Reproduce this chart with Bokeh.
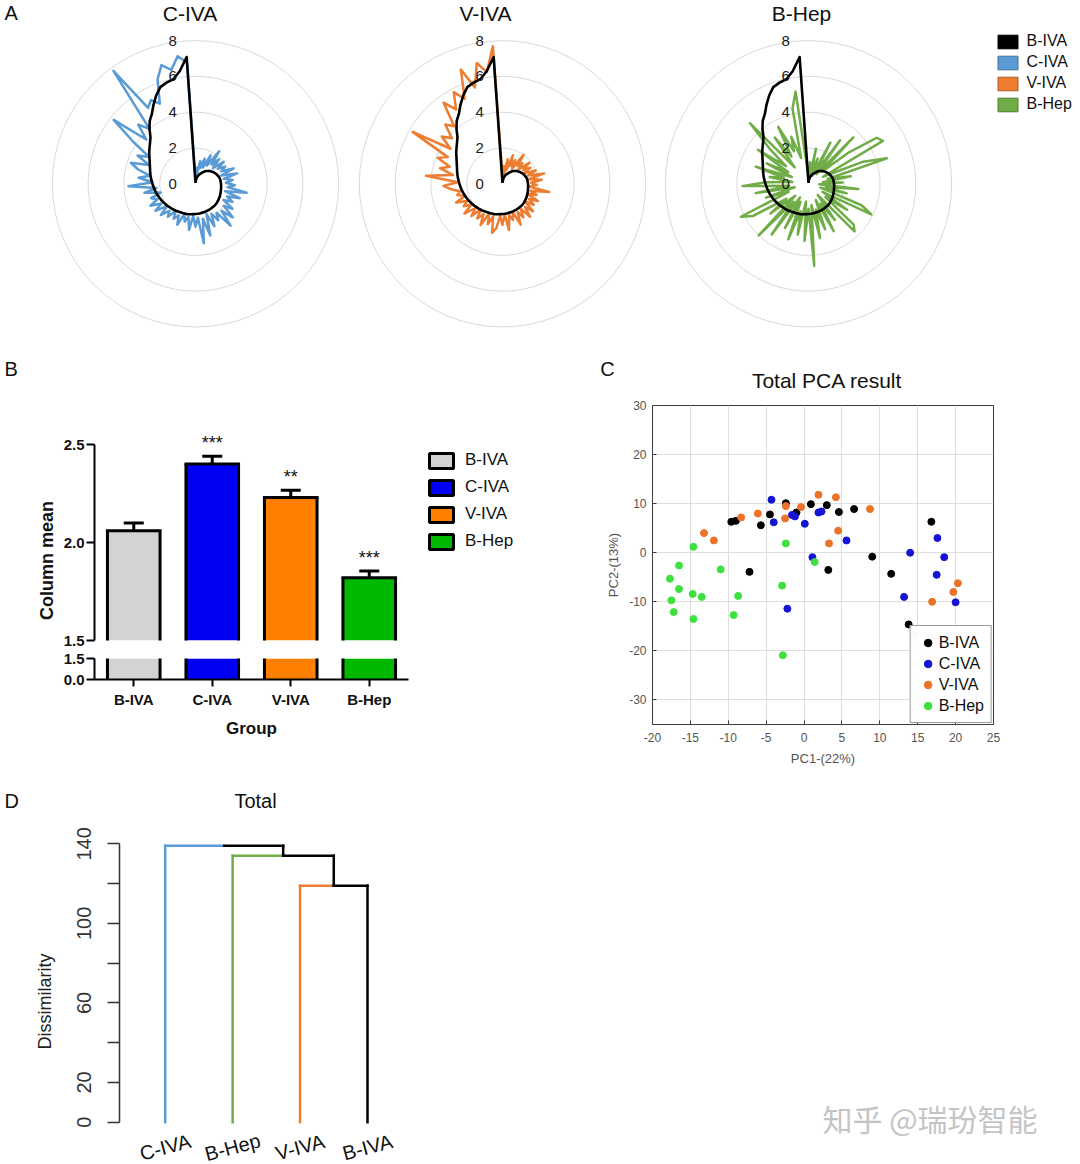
import math
import numpy as np
from bokeh.plotting import figure
from bokeh.models import (Range1d, FactorRange, Label, Legend, LegendItem,
                          FixedTicker, ColumnDataSource, Whisker, TeeHead,
                          NumeralTickFormatter)
from bokeh.layouts import row, column
from bokeh.transform import dodge
from bokeh.embed import file_html
from bokeh.resources import INLINE
from bokeh.core.properties import value

FONT = "Liberation Sans"

# ---------------- Panel A: radar data ----------------
groups = ["B-IVA", "C-IVA", "V-IVA", "B-Hep"]
radar_colors = ["#000000", "#5b9bd5", "#ed7d31", "#70ad47"]
radar_edges = ["#000000", "#41719c", "#ae5a21", "#507e32"]
ring_values = [0, 2, 4, 6, 8]

b_iva = [0.05, 0.15, 0.25, 0.35, 0.45, 0.52, 0.60, 0.66, 0.75, 0.85,
         0.93, 1.00, 1.07, 1.12, 1.18, 1.23, 1.27, 1.31, 1.35, 1.38,
         1.40, 1.41, 1.42, 1.43, 1.44, 1.45, 1.46, 1.48, 1.50, 1.52,
         1.54, 1.56, 1.58, 1.60, 1.61, 1.62, 1.62, 1.63, 1.64, 1.64,
         1.65, 1.66, 1.66, 1.67, 1.68, 1.69, 1.70, 1.72, 1.74, 1.76,
         1.77, 1.79, 1.80, 1.83, 1.86, 1.89, 1.92, 1.95, 1.99, 2.03,
         2.07, 2.11, 2.15, 2.19, 2.24, 2.29, 2.33, 2.38, 2.43, 2.49,
         2.55, 2.61, 2.67, 2.75, 2.85, 2.97, 3.12, 3.26, 3.42, 3.62,
         4.00, 4.35, 4.60, 5.00, 5.40, 5.75, 5.88, 5.97, 6.35, 7.10]

c_iva = [0.3, 0.9, 0.6, 1.3, 0.9, 1.5, 1.0, 1.8, 1.2, 2.25,
         1.4, 1.9, 1.3, 2.0, 1.5, 1.9, 1.6, 2.3, 1.5, 2.4,
         1.6, 2.1, 1.7, 2.2, 1.8, 2.9, 1.7, 2.6, 1.9, 2.3,
         1.8, 2.5, 2.0, 2.8, 2.1, 3.05, 2.0, 2.4, 1.9, 2.6,
         1.8, 3.0, 2.0, 3.35, 1.9, 2.4, 1.8, 2.6, 1.9, 2.2,
         1.8, 2.5, 2.0, 2.3, 1.9, 2.4, 2.1, 2.6, 2.0, 2.7,
         2.2, 2.8, 2.3, 2.6, 2.0, 2.9, 2.2, 3.75, 2.4, 3.2,
         2.6, 3.3, 3.8, 2.8, 3.6, 3.0, 4.2, 5.8, 3.7, 4.6,
         4.0, 7.8, 5.0, 5.3, 4.9, 6.2, 6.9, 6.5, 7.2, 6.8]

v_iva = [0.4, 1.0, 0.5, 1.4, 0.8, 1.7, 1.1, 1.5, 1.0, 2.0,
         1.3, 1.6, 1.2, 1.9, 1.4, 1.8, 1.3, 2.0, 1.5, 2.4,
         1.5, 2.2, 1.6, 1.9, 1.5, 2.65, 1.6, 2.0, 1.5, 2.2,
         1.7, 2.1, 1.6, 2.3, 1.8, 2.4, 1.7, 2.2, 1.8, 2.5,
         1.7, 2.1, 1.8, 2.6, 1.7, 2.3, 1.8, 2.5, 2.8, 1.9,
         2.4, 1.8, 2.6, 2.0, 2.4, 1.9, 2.5, 2.0, 2.7, 2.1,
         2.5, 2.2, 2.8, 2.2, 2.6, 2.4, 2.9, 3.3, 2.5, 4.3,
         2.8, 3.6, 3.1, 3.9, 3.4, 5.8, 3.5, 4.3, 3.8, 4.6,
         4.2, 5.6, 4.9, 5.8, 5.2, 6.8, 5.6, 6.9, 6.3, 7.7]

b_hep = [0.3, 1.2, 0.4, 2.0, 0.6, 1.5, 0.5, 2.6, 0.8, 3.0,
         0.7, 3.6, 1.0, 2.8, 4.6, 4.8, 0.9, 3.3, 4.6, 1.1,
         2.4, 0.8, 1.9, 0.6, 2.8, 1.0, 2.2, 0.7, 3.2, 3.9,
         0.9, 2.6, 1.2, 3.4, 3.7, 0.8, 2.5, 1.3, 3.0, 1.0,
         2.7, 1.5, 3.1, 1.2, 4.6, 1.4, 3.2, 1.0, 2.9, 1.6,
         3.3, 1.1, 2.8, 0.9, 3.5, 1.3, 4.0, 1.0, 2.7, 1.5,
         3.6, 4.2, 1.2, 2.5, 0.8, 3.0, 1.1, 3.7, 2.4, 0.9,
         2.2, 1.4, 3.1, 1.0, 2.6, 1.3, 3.4, 1.6, 2.9, 4.7,
         1.2, 3.2, 1.8, 3.6, 2.0, 2.8, 1.5, 4.3, 5.2, 0.8]

# ---------------- Panel B: bar data ----------------
bar_groups = ["B-IVA", "C-IVA", "V-IVA", "B-Hep"]
bar_means = [2.06, 2.40, 2.23, 1.82]
bar_sem = [0.04, 0.04, 0.037, 0.034]
bar_colors = ["#d3d3d3", "#0000f5", "#ff8000", "#00b800"]
bar_stars = ["", "***", "**", "***"]

# ---------------- Panel C: PCA data ----------------
pca_groups = ["B-IVA", "C-IVA", "V-IVA", "B-Hep"]
pca_colors = ["#000000", "#1414d2", "#ea7328", "#3ee03e"]
pc1_b_iva = [-9.6, -9.0, -5.7, -4.5, -2.4, -1.0, 0.9, 3.0, 4.6, 6.6, -7.2, 3.2, 9.0, 11.5, 16.8, 13.8]
pc2_b_iva = [6.3, 6.5, 5.6, 7.8, 10.1, 8.2, 9.9, 9.7, 8.3, 8.9, -3.9, -3.5, -0.8, -4.3, 6.3, -14.6]
pc1_c_iva = [-4.3, -4.0, -1.6, -1.2, 0.1, 1.9, 2.3, 5.6, 1.1, -2.2, 14.0, 17.6, 18.5, 17.5, 13.2, 20.0]
pc2_c_iva = [10.8, 6.2, 7.7, 7.4, 5.9, 8.2, 8.4, 2.5, -0.9, -11.4, 0.0, 3.0, -0.9, -4.5, -9.0, -10.1]
pc1_v_iva = [-13.2, -11.9, -8.3, -6.1, -2.4, -2.5, -0.4, 1.9, 4.2, 4.5, 3.3, 8.7, 16.9, 19.7, 20.3, 14.5]
pc2_v_iva = [4.0, 2.5, 7.2, 8.0, 9.5, 7.0, 9.3, 11.8, 11.3, 4.5, 1.9, 8.9, -10.0, -8.0, -6.2, -16.8]
pc1_b_hep = [-17.7, -17.5, -17.2, -16.5, -16.5, -14.6, -14.7, -14.6, -13.5, -11.0, -9.3, -8.7, -2.4, -2.9, -2.8, 1.4]
pc2_b_hep = [-5.3, -9.7, -12.1, -2.6, -7.4, 1.2, -8.4, -13.5, -9.0, -3.4, -12.7, -8.8, 1.9, -6.7, -20.9, -1.9]
pca_x_ticks = [-20, -15, -10, -5, 0, 5, 10, 15, 20, 25]
pca_y_ticks = [-30, -20, -10, 0, 10, 20, 30]

# ---------------- Panel D: dendrogram data ----------------
leaves = ["C-IVA", "B-Hep", "V-IVA", "B-IVA"]
leaf_colors = ["#5b9bd5", "#70ad47", "#ed7d31", "#000000"]
merge_left = ["V-IVA", "B-Hep", "C-IVA"]
merge_right = ["B-IVA", "node1", "node2"]
merge_height = [119, 134, 139]
dend_ticks = [0, 20, 40, 60, 80, 100, 120, 140]
dend_shown = [0, 20, 60, 100, 140]

TXT = "#111111"


def no_align(p):
    if "frame_align" in p.properties():
        p.frame_align = False
    return p


def blank(width, height):
    p = figure(width=width, height=height, title=None,
               x_range=Range1d(0, width), y_range=Range1d(0, height),
               output_backend="svg", toolbar_location=None,
               x_axis_location=None, y_axis_location=None, min_border=0)
    p.grid.visible = False
    p.outline_line_color = None
    return no_align(p)


def lab(p, x, y, text, size, align="center", bold=False, angle=0.0, color=TXT,
        font=FONT):
    p.add_layout(Label(x=x, y=y, x_units="screen", y_units="screen", text=text,
                       text_align=align, text_baseline="middle", angle=angle,
                       text_font=font, text_font_size=size,
                       text_font_style="bold" if bold else "normal",
                       text_color=color))


# =====================================================
# Panel A
S = 17.9          # px per radar unit
H1 = 345
CY = 183.3
N = len(b_iva)
theta = [2 * math.pi * i / N for i in range(N)]


def polar_xy(vals):
    xs = [v * math.sin(t) for v, t in zip(vals, theta)]
    ys = [v * math.cos(t) for v, t in zip(vals, theta)]
    return xs + xs[:1], ys + ys[:1]


def radar(width, cx, series, color, title, title_cx):
    p = figure(width=width, height=H1, title=None,
               x_range=Range1d(-cx / S, (width - cx) / S),
               y_range=Range1d(-(H1 - CY) / S, CY / S),
               output_backend="svg", toolbar_location=None,
               x_axis_location=None, y_axis_location=None, min_border=0)
    p.grid.visible = False
    p.outline_line_color = None
    p.circle(x=[0] * 4, y=[0] * 4, radius=ring_values[1:], fill_color=None,
             line_color="#d9d9d9", line_width=1)
    xs, ys = polar_xy(series)
    p.line(xs, ys, line_color=color, line_width=2.5, line_join="round")
    bx, by = polar_xy(b_iva)
    p.line(bx, by, line_color="#000000", line_width=2.6, line_join="round")
    p.text(x=[-1.28] * len(ring_values), y=ring_values, text=[str(v) for v in ring_values],
           text_align="center", text_baseline="middle", text_font=value(FONT),
           text_font_size="15px", text_color="#1a1a1a")
    lab(p, title_cx, H1 - 12.5, title, "21px")
    return p


r1 = radar(350, 195, c_iva, radar_colors[1], "C-IVA", 189.5)
lab(r1, 4, H1 - 12.5, "A", "20px", align="left")
r2 = radar(307, 152, v_iva, radar_colors[2], "V-IVA", 135)
r3 = radar(423, 151, b_hep, radar_colors[3], "B-Hep", 144)

legA_r = r3.rect(x=np.full(4, np.nan), y=np.full(4, np.nan), width=1, height=1,
                 fill_color=radar_colors, line_color=radar_edges, line_width=1)
legA = Legend(items=[LegendItem(label=g, renderers=[legA_r], index=i)
                     for i, g in enumerate(groups)],
              location=(337.5, 230.5), padding=0, margin=0,
              spacing=0, glyph_width=25, glyph_height=17, label_height=21,
              label_standoff=7, label_text_font=FONT, label_text_font_size="16px",
              label_text_color=TXT, border_line_color=None,
              background_fill_alpha=0)
r3.add_layout(legA)

row1 = row(r1, r2, r3)

# =====================================================
# Panel B (broken axis bar chart)
PXU = 196.0
HALF = 0.335
bsrc = ColumnDataSource(dict(g=bar_groups, m=bar_means, c=bar_colors,
                             up=[m + s for m, s in zip(bar_means, bar_sem)],
                             sy=[m + s + 0.068 for m, s in zip(bar_means, bar_sem)],
                             st=bar_stars))
xr = FactorRange(*bar_groups)

leftB = blank(60, 435)
lab(leftB, 4, 435 - 23, "B", "20px", align="left")
lab(leftB, 46.7, 435 - 215, "Column mean", "18px", bold=True, angle=math.pi / 2)

topB = figure(width=355, height=304, title=None, x_range=xr,
              y_range=Range1d(1.5, 1.5 + 210 / PXU),
              output_backend="svg", toolbar_location=None, x_axis_location=None,
              min_border_left=33, min_border_right=7, min_border_top=85,
              min_border_bottom=9)
botB = figure(width=355, height=131, title=None, x_range=xr,
              y_range=Range1d(0, 1.5),
              output_backend="svg", toolbar_location=None,
              min_border_left=33, min_border_right=7, min_border_top=9,
              min_border_bottom=101)

xl = dodge("g", -HALF, range=xr)
xrt = dodge("g", HALF, range=xr)
for p in (topB, botB):
    p.grid.visible = False
    p.outline_line_color = None
    p.vbar(x="g", top="m", bottom=0, width=2 * HALF, source=bsrc,
           fill_color="c", line_color=None)
    p.segment(x0=xl, y0=0, x1=xl, y1="m", source=bsrc, line_color="#000000",
              line_width=3)
    p.segment(x0=xrt, y0=0, x1=xrt, y1="m", source=bsrc, line_color="#000000",
              line_width=3)
    for ax in p.axis:
        ax.axis_line_width = 2
        ax.major_tick_line_width = 2
        ax.major_tick_in = 0
        ax.minor_tick_line_color = None
        ax.major_label_text_font = FONT
        ax.major_label_text_font_style = "bold"
        ax.major_label_text_font_size = "15px"
        ax.major_label_text_color = TXT
        ax.axis_label_text_font = FONT
        ax.axis_label_text_font_style = "bold"
        ax.axis_label_text_color = TXT

topB.segment(x0=xl, y0="m", x1=xrt, y1="m", source=bsrc, line_color="#000000",
             line_width=3, line_cap="square")
topB.yaxis.ticker = FixedTicker(ticks=[1.5, 2.0, 2.5])
topB.yaxis.bounds = (1.5, 2.5)
topB.yaxis.formatter = NumeralTickFormatter(format="0.0")
topB.yaxis.major_tick_out = 8
topB.yaxis.major_label_standoff = 2
botB.yaxis.ticker = FixedTicker(ticks=[0.0, 1.5])
botB.yaxis.formatter = NumeralTickFormatter(format="0.0")
botB.yaxis.major_tick_out = 8
botB.yaxis.major_label_standoff = 2
botB.xaxis.major_tick_out = 7
botB.xaxis.major_label_standoff = 4
botB.xaxis.axis_label = "Group"
botB.xaxis.axis_label_text_font_size = "17px"
botB.xaxis.axis_label_standoff = 8

topB.add_layout(Whisker(base="g", upper="up", lower="m", source=bsrc,
                        dimension="height", line_width=3, line_color="#000000",
                        lower_head=None,
                        upper_head=TeeHead(size=20, line_width=3, line_color="#000000")))
topB.text(x="g", y="sy", text="st", source=bsrc, text_align="center",
          text_baseline="middle", text_font=value(FONT), text_font_size="18px",
          text_color=TXT)

legBfig = blank(175, 435)
legB_r = legBfig.rect(x=np.full(4, np.nan), y=np.full(4, np.nan), width=1, height=1,
                      fill_color=bar_colors, line_color="#000000", line_width=3)
legB = Legend(items=[LegendItem(label=g, renderers=[legB_r], index=i)
                     for i, g in enumerate(bar_groups)],
              location=(11, 225.5), padding=0, margin=0, spacing=0,
              glyph_width=30, glyph_height=19, label_height=27, label_standoff=9,
              label_text_font=FONT, label_text_font_size="17px",
              label_text_color=TXT, border_line_color=None,
              background_fill_alpha=0)
legBfig.add_layout(legB)

panelB = row(leftB, column(topB, botB), legBfig)

# =====================================================
# Panel C (PCA scatter)
headC = blank(490, 50)
lab(headC, 17, 50 - 23, "C", "20px")
lab(headC, 236.7, 50 - 35, "Total PCA result", "21px")

pc = figure(width=490, height=385, title=None,
            x_range=Range1d(-20, 25), y_range=Range1d(-35, 30),
            output_backend="svg", toolbar_location=None,
            min_border_left=62, min_border_right=87, min_border_top=10,
            min_border_bottom=56)
no_align(pc)
pc.outline_line_color = "#3c3c3c"
pc.outline_line_width = 1
pc.grid.grid_line_color = "#dedede"
pc.xaxis.ticker = FixedTicker(ticks=pca_x_ticks)
pc.yaxis.ticker = FixedTicker(ticks=pca_y_ticks)
pc.xaxis.major_label_overrides = {t: str(t) for t in pca_x_ticks}
pc.yaxis.major_label_overrides = {t: str(t) for t in pca_y_ticks}
for ax in pc.axis:
    ax.axis_line_color = None
    ax.major_tick_in = 4
    ax.major_tick_out = 0
    ax.major_tick_line_color = "#3c3c3c"
    ax.minor_tick_line_color = None
    ax.major_label_text_font = FONT
    ax.major_label_text_font_size = "12px"
    ax.major_label_text_color = "#555555"
    ax.axis_label_text_font = FONT
    ax.axis_label_text_font_style = "normal"
    ax.axis_label_text_font_size = "13px"
    ax.axis_label_text_color = "#555555"
pc.xaxis.major_label_standoff = 8
pc.yaxis.major_label_standoff = 6
pc.xaxis.axis_label = "PC1-(22%)"
pc.yaxis.axis_label = "PC2-(13%)"
pc.xaxis.axis_label_standoff = 6
pc.yaxis.axis_label_standoff = 5

pca_x = [pc1_b_iva, pc1_c_iva, pc1_v_iva, pc1_b_hep]
pca_y = [pc2_b_iva, pc2_c_iva, pc2_v_iva, pc2_b_hep]
pitems = []
for g, c, xs, ys in zip(pca_groups, pca_colors, pca_x, pca_y):
    rr = pc.scatter(xs, ys, size=7, fill_color=c, line_color=c)
    pitems.append(LegendItem(label=g, renderers=[rr]))
legC = Legend(items=pitems, location="bottom_right", margin=1, padding=7,
              spacing=2, glyph_width=20, glyph_height=19, label_height=19,
              label_standoff=1, label_text_font=FONT, label_text_font_size="16px",
              label_text_color=TXT, border_line_color="#333333",
              border_line_width=1, background_fill_color="white")
pc.add_layout(legC)

panelC = column(row(headC), pc)
row2 = row(panelB, panelC)

# =====================================================
# Panel D (dendrogram)
headD = blank(1080, 38)
lab(headD, 4, 38 - 20, "D", "20px", align="left")
lab(headD, 255, 38 - 20.7, "Total", "20px")

DX = 67.43
DY = 1.988
FW = 1080 - 119
FH = 346 - 20
y0v = -(1164 - 1121.7) / DY
x0v = 1 - (164.7 - 119) / DX
pd_ = figure(width=1080, height=346, title=None,
             x_range=Range1d(x0v, x0v + FW / DX),
             y_range=Range1d(y0v, y0v + FH / DY),
             output_backend="svg", toolbar_location=None, x_axis_location=None,
             min_border_left=119, min_border_right=0, min_border_top=20,
             min_border_bottom=0)
no_align(pd_)
pd_.grid.visible = False
pd_.outline_line_color = None
yax = pd_.yaxis[0]
yax.ticker = FixedTicker(ticks=dend_ticks)
yax.bounds = (0, 140)
yax.major_label_overrides = {t: (str(t) if t in dend_shown else "") for t in dend_ticks}
yax.major_label_orientation = "vertical"
yax.major_label_text_font = FONT
yax.major_label_text_font_size = "20px"
yax.major_label_text_color = "#333333"
yax.major_label_standoff = 16
yax.major_tick_out = 12
yax.major_tick_in = 0
yax.major_tick_line_width = 1.5
yax.major_tick_line_color = "#333333"
yax.axis_line_width = 1.5
yax.axis_line_color = "#333333"
yax.minor_tick_line_color = None
yax.axis_label = "Dissimilarity"
yax.axis_label_text_font = FONT
yax.axis_label_text_font_style = "normal"
yax.axis_label_text_font_size = "18px"
yax.axis_label_text_color = "#222222"
yax.axis_label_standoff = 20

node_x = {n: i + 1 for i, n in enumerate(leaves)}
node_h = {n: 0 for n in leaves}
node_c = dict(zip(leaves, leaf_colors))
sx0, sy0, sx1, sy1, sc = [], [], [], [], []
for k, (a, b, h) in enumerate(zip(merge_left, merge_right, merge_height)):
    px = (node_x[a] + node_x[b]) / 2
    for ch in (a, b):
        sx0 += [px, node_x[ch]]
        sy0 += [h, h]
        sx1 += [node_x[ch], node_x[ch]]
        sy1 += [h, node_h[ch]]
        sc += [node_c[ch], node_c[ch]]
    name = "node%d" % (k + 1)
    node_x[name] = px
    node_h[name] = h
    node_c[name] = "#000000"
pd_.segment(x0=sx0, y0=sy0, x1=sx1, y1=sy1, line_color=sc, line_width=2.5,
            line_cap="square")
pd_.text(x=[node_x[n] for n in leaves], y=[-12.6] * len(leaves), text=leaves,
         angle=0.26, text_align="center", text_baseline="middle",
         text_font=value(FONT), text_font_size="20px", text_color=TXT)
lab(pd_, 822 - 119, 1164 - 1117, "知乎 @瑞玢智能", "30px", align="left",
    color="#c4c4c4", font="Noto Sans CJK SC")

layout = column(row1, row2, row(headD), pd_)
open("out.html", "w").write(file_html(layout, INLINE))
